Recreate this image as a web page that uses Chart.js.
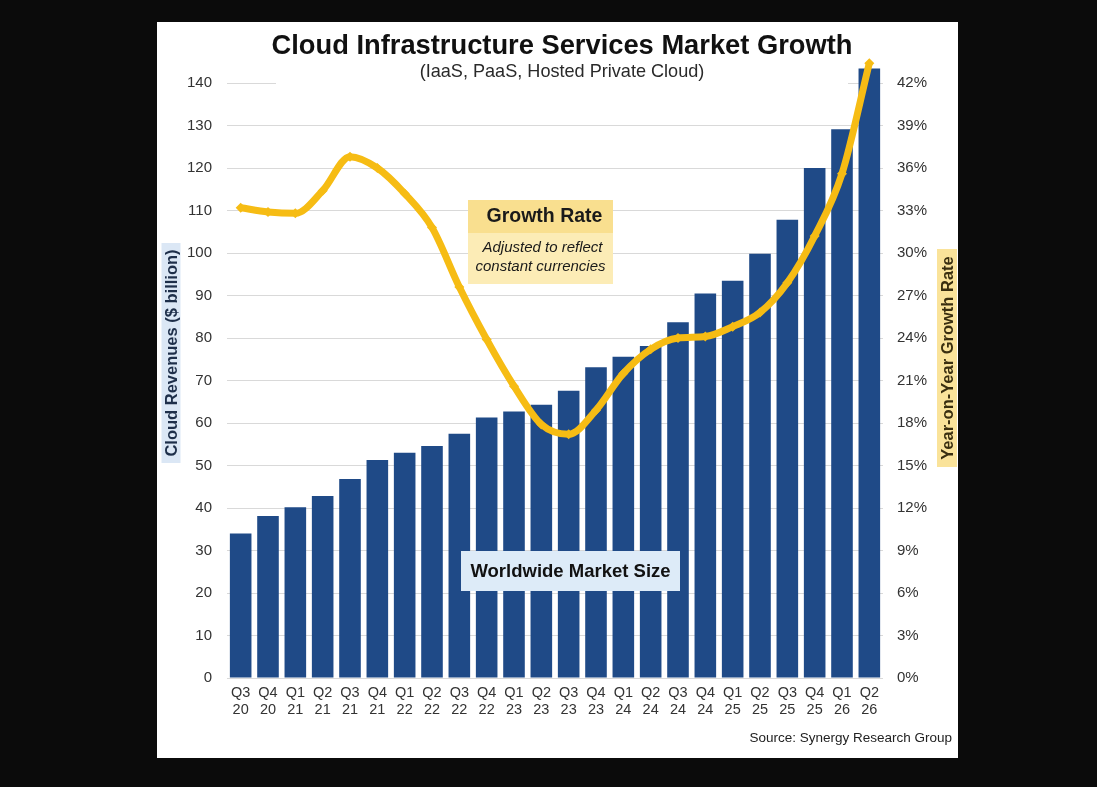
<!DOCTYPE html>
<html>
<head>
<meta charset="utf-8">
<script src="https://cdn.jsdelivr.net/npm/chart.js@4.4.0/dist/chart.umd.min.js"></script>
<style>
  html, body { margin: 0; padding: 0; background: #0b0b0b; width: 1097px; height: 787px; overflow: hidden; }
  #panel { position: absolute; left: 157px; top: 22px; width: 801px; height: 736px; background: #ffffff; }
</style>
</head>
<body>
<div id="panel"><canvas id="c"></canvas></div>
<script>
const categories = ['Q3 20','Q4 20','Q1 21','Q2 21','Q3 21','Q4 21','Q1 22','Q2 22','Q3 22','Q4 22','Q1 23','Q2 23',
                    'Q3 23','Q4 23','Q1 24','Q2 24','Q3 24','Q4 24','Q1 25','Q2 25','Q3 25','Q4 25','Q1 26','Q2 26'];
const marketSize = [34.0, 38.1, 40.2, 42.8, 46.8, 51.3, 53.0, 54.6, 57.5, 61.3, 62.7, 64.3,
                    67.6, 73.1, 75.6, 78.1, 83.7, 90.5, 93.5, 99.8, 107.8, 120.0, 129.1, 143.4];
const growthRate = [33.2, 32.9, 32.8, 34.4, 36.8, 36.0, 34.2, 31.8, 27.6, 23.9, 20.6, 17.9,
                    17.2, 18.9, 21.5, 23.2, 24.0, 24.1, 24.8, 25.8, 27.9, 31.2, 35.6, 43.4];
const leftTickStep = 10;
const rightTickStep = 3;

const titleText = 'Cloud Infrastructure Services Market Growth';
const subtitleText = '(IaaS, PaaS, Hosted Private Cloud)';
const leftAxisTitle = 'Cloud Revenues ($ billion)';
const rightAxisTitle = 'Year-on-Year Growth Rate';
const growthBoxTitle = 'Growth Rate';
const growthBoxLines = ['Adjusted to reflect', 'constant currencies'];
const sizeBoxTitle = 'Worldwide Market Size';
const sourceText = 'Source: Synergy Research Group';

const FONT = '"Liberation Sans", Arial, Helvetica, sans-serif';

function fitFont(ctx, text, weight, style, targetW, base) {
  ctx.font = style + ' ' + weight + ' ' + base + 'px ' + FONT;
  const w = ctx.measureText(text).width;
  return base * targetW / w;
}

const decor = {
  id: 'decor',
  beforeDatasetsDraw(chart) {
    const ctx = chart.ctx;
    ctx.save();
    // white cover behind title/subtitle area (hides part of top gridline)
    ctx.fillStyle = '#ffffff';
    ctx.fillRect(276 - 157, 74 - 22, 848 - 276, 18);
    // growth rate annotation box
    const gx = 468 - 157, gy = 200 - 22, gw = 145, gh = 84;
    ctx.fillStyle = '#fcecb6';
    ctx.fillRect(gx, gy, gw, gh);
    ctx.fillStyle = '#f9df8f';
    ctx.fillRect(gx, gy, gw, 33);
    ctx.fillStyle = '#1a1a1a';
    ctx.textAlign = 'center';
    ctx.textBaseline = 'middle';
    ctx.font = 'bold 19.5px ' + FONT;
    ctx.fillText(growthBoxTitle, gx + gw / 2 + 4, gy + 17);
    ctx.font = 'italic 15px ' + FONT;
    ctx.fillText(growthBoxLines[0], gx + gw / 2 + 2, gy + 48);
    ctx.fillText(growthBoxLines[1], gx + gw / 2, gy + 67);
    ctx.restore();
  },
  afterDatasetsDraw(chart) {
    const ctx = chart.ctx;
    ctx.save();
    const bx = 461 - 157, by = 551 - 22, bw = 219, bh = 40;
    ctx.fillStyle = '#ddebf8';
    ctx.fillRect(bx, by, bw, bh);
    ctx.fillStyle = '#111111';
    ctx.textAlign = 'center';
    ctx.textBaseline = 'middle';
    ctx.font = 'bold 18.5px ' + FONT;
    ctx.fillText(sizeBoxTitle, bx + bw / 2, by + bh / 2 + 1);
    ctx.restore();
  },
  afterDraw(chart) {
    const ctx = chart.ctx;
    ctx.save();
    ctx.textAlign = 'center';
    ctx.textBaseline = 'middle';
    ctx.fillStyle = '#111111';
    let fs = fitFont(ctx, titleText, 'bold', 'normal', 581, 24);
    ctx.font = 'bold ' + fs.toFixed(1) + 'px ' + FONT;
    ctx.fillText(titleText, 562 - 157, 46 - 22);
    ctx.fillStyle = '#2a2a2a';
    fs = fitFont(ctx, subtitleText, 'normal', 'normal', 285, 16);
    ctx.font = fs.toFixed(1) + 'px ' + FONT;
    ctx.fillText(subtitleText, 562 - 157, 72 - 22);
    ctx.textAlign = 'right';
    ctx.fillStyle = '#222222';
    ctx.font = '13.5px ' + FONT;
    ctx.fillText(sourceText, 952 - 157, 738 - 22);
    // left axis title
    ctx.save();
    ctx.translate(171 - 157, 353 - 22);
    ctx.rotate(-Math.PI / 2);
    ctx.fillStyle = '#dbe7f5';
    ctx.fillRect(-110, -9.5, 220, 19);
    ctx.fillStyle = '#1e2f4a';
    ctx.textAlign = 'center';
    ctx.font = 'bold 16.5px ' + FONT;
    ctx.fillText(leftAxisTitle, 0, 1);
    ctx.restore();
    // right axis title
    ctx.save();
    ctx.translate(947 - 157, 358 - 22);
    ctx.rotate(-Math.PI / 2);
    ctx.fillStyle = '#fae39a';
    ctx.fillRect(-109, -10, 218, 20);
    ctx.fillStyle = '#3a2f10';
    ctx.textAlign = 'center';
    ctx.font = 'bold 16.5px ' + FONT;
    ctx.fillText(rightAxisTitle, 0, 1);
    ctx.restore();
    ctx.restore();
  }
};

const leftMax = 146;
const rightMax = leftMax * rightTickStep / leftTickStep;

new Chart(document.getElementById('c'), {
  data: {
    labels: categories.map(c => c.split(' ')),
    datasets: [
      {
        type: 'line',
        label: 'Growth Rate',
        data: growthRate,
        yAxisID: 'y1',
        order: 0,
        borderColor: '#f6bc14',
        backgroundColor: '#f6bc14',
        borderWidth: 7,
        tension: 0.4,
        cubicInterpolationMode: 'monotone',
        pointStyle: 'rectRot',
        pointRadius: 5,
        pointBorderWidth: 0,
        clip: false
      },
      {
        type: 'bar',
        label: 'Worldwide Market Size',
        data: marketSize,
        yAxisID: 'y',
        order: 1,
        backgroundColor: '#1f4a87',
        borderWidth: 0,
        barPercentage: 0.79,
        categoryPercentage: 1.0
      }
    ]
  },
  options: {
    responsive: true,
    maintainAspectRatio: false,
    animation: false,
    devicePixelRatio: 1,
    layout: { padding: { top: 35.5, bottom: 0, left: 0, right: 0 } },
    plugins: {
      legend: { display: false },
      tooltip: { enabled: false },
      title: { display: false }
    },
    scales: {
      x: {
        grid: { display: false, drawTicks: false },
        border: { display: false },
        ticks: {
          color: '#333333',
          font: { family: FONT, size: 14.5 },
          maxRotation: 0,
          autoSkip: false,
          padding: 6
        },
        afterFit(s) { s.height = 80; }
      },
      y: {
        position: 'left',
        min: 0,
        max: leftMax,
        grid: { color: '#d9d9d9', lineWidth: 1, drawTicks: false },
        border: { display: false },
        ticks: {
          stepSize: leftTickStep,
          color: '#333333',
          font: { family: FONT, size: 15 },
          padding: 15
        },
        afterBuildTicks(s) { s.ticks = s.ticks.filter(t => t.value % leftTickStep === 0); },
        afterFit(s) { s.width = 70; }
      },
      y1: {
        position: 'right',
        min: 0,
        max: rightMax,
        grid: { display: false, drawTicks: false },
        border: { display: false },
        ticks: {
          stepSize: rightTickStep,
          color: '#333333',
          font: { family: FONT, size: 15 },
          padding: 14,
          callback: v => Math.round(v) + '%'
        },
        afterBuildTicks(s) { s.ticks = s.ticks.filter(t => Math.abs(t.value / rightTickStep - Math.round(t.value / rightTickStep)) < 1e-6); },
        afterFit(s) { s.width = 75; }
      }
    }
  },
  plugins: [decor]
});
</script>
</body>
</html>
